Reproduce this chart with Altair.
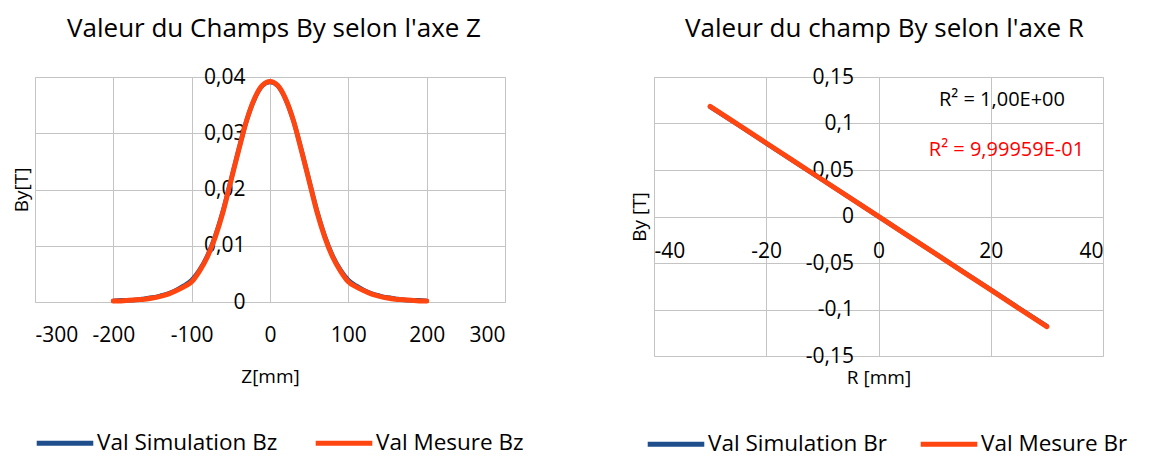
import altair as alt
import pandas as pd

# ---------- data: field along Z ----------
z_mm = [-200, -190, -180, -170, -160, -150, -140, -130, -120, -110, -100,
        -90, -80, -70, -60, -50, -40, -30, -20, -10, 0,
        10, 20, 30, 40, 50, 60, 70, 80, 90, 100,
        110, 120, 130, 140, 150, 160, 170, 180, 190, 200]
bz_sim = [0.0002, 0.0003, 0.0003, 0.0004, 0.0006, 0.0008, 0.0011, 0.0015, 0.0021, 0.0029, 0.0039,
          0.0057, 0.0082, 0.0117, 0.0162, 0.0216, 0.0271, 0.0322, 0.0360, 0.0384, 0.0391,
          0.0384, 0.0360, 0.0322, 0.0271, 0.0216, 0.0162, 0.0117, 0.0082, 0.0057, 0.0039,
          0.0029, 0.0021, 0.0015, 0.0011, 0.0008, 0.0006, 0.0004, 0.0003, 0.0003, 0.0002]
bz_mes = [0.0002, 0.0002, 0.0003, 0.0004, 0.0005, 0.0007, 0.0010, 0.0014, 0.0020, 0.0027, 0.0036,
          0.0055, 0.0080, 0.0115, 0.0160, 0.0215, 0.0270, 0.0322, 0.0361, 0.0385, 0.0392,
          0.0385, 0.0361, 0.0322, 0.0270, 0.0215, 0.0160, 0.0115, 0.0080, 0.0055, 0.0036,
          0.0027, 0.0020, 0.0014, 0.0010, 0.0007, 0.0005, 0.0004, 0.0003, 0.0002, 0.0002]

# ---------- data: field along R ----------
r_mm = [-30, -25, -20, -15, -10, -5, 0, 5, 10, 15, 20, 25, 30]
br_sim = [0.1180, 0.0984, 0.0787, 0.0590, 0.0393, 0.0197, 0.0000,
          -0.0197, -0.0393, -0.0590, -0.0787, -0.0984, -0.1180]
br_mes = [0.1185, 0.0988, 0.0790, 0.0592, 0.0395, 0.0197, 0.0001,
          -0.0197, -0.0394, -0.0592, -0.0789, -0.0987, -0.1184]

z_ticks = [-300, -200, -100, 0, 100, 200, 300]
by_z_ticks = [0, 0.01, 0.02, 0.03, 0.04]
r_ticks = [-40, -20, 0, 20, 40]
by_r_ticks = [-0.15, -0.1, -0.05, 0, 0.05, 0.1, 0.15]

series_z = ["Val Simulation Bz", "Val Mesure Bz"]
series_r = ["Val Simulation Br", "Val Mesure Br"]
r2_texts = ["R² = 1,00E+00", "R² = 9,99959E-01"]
r2_colors = ["#000000", "#FF0000"]
r2_r = [22.0, 22.8]
r2_by = [0.125, 0.0715]

BLUE = "#1F4E8C"
ORANGE = "#FF4510"
GRID = "#C4C4C4"
FONT = "Open Sans"
TICK = 21
ATITLE = 19
LEG = 22.5
TITLE = 26

dz = pd.DataFrame({
    "Z": z_mm + z_mm,
    "By": bz_sim + bz_mes,
    "serieZ": [series_z[0]] * len(z_mm) + [series_z[1]] * len(z_mm),
})
dr = pd.DataFrame({
    "R": r_mm + r_mm,
    "By": br_sim + br_mes,
    "serieR": [series_r[0]] * len(r_mm) + [series_r[1]] * len(r_mm),
})

comma = "replace(toString(datum.value), '.', ',')"
plain = "toString(datum.value)"

common_axis = dict(grid=True, gridColor=GRID, domain=False, ticks=False,
                   labelFontSize=TICK, titleFontSize=ATITLE, titleFontWeight="normal",
                   labelFont=FONT, titleFont=FONT, labelColor="#000000",
                   titleColor="#000000")


def legend(x, y, gap):
    return alt.Legend(title=None, orient="none", legendX=x, legendY=y,
                      direction="horizontal", symbolType="stroke",
                      symbolStrokeWidth=5, symbolSize=3200, labelLimit=400,
                      labelFontSize=LEG, labelFont=FONT, labelColor="#000000",
                      columnPadding=gap, labelOffset=1, padding=0)


# ---------------- left chart ----------------
WL, HL = 470, 225
xz = alt.X("Z:Q", scale=alt.Scale(domain=[-300, 300], nice=False),
           axis=alt.Axis(values=z_ticks, labelExpr=plain, title="Z[mm]",
                         labelPadding=22, titlePadding=22, **common_axis))
yz = alt.Y("By:Q", scale=alt.Scale(domain=[0, 0.04], nice=False),
           axis=alt.Axis(values=by_z_ticks, labelExpr=comma, title="By[T]", offset=-235,
                         labelPadding=25, titleX=-249, titleY=HL / 2,
                         titleBaseline="middle", **common_axis))
colz = alt.Color("serieZ:N",
                 scale=alt.Scale(domain=series_z, range=[BLUE, ORANGE]),
                 legend=legend(-1, 335, 27))

left_sim = alt.Chart(dz).transform_filter(alt.datum.serieZ == series_z[0]).mark_line(
    strokeWidth=4.5, strokeCap="round", interpolate="monotone").encode(x=xz, y=yz, color=colz)
left_mes = alt.Chart(dz).transform_filter(alt.datum.serieZ == series_z[1]).mark_line(
    strokeWidth=5, strokeCap="round", interpolate="monotone").encode(x=xz, y=yz, color=colz)

left = alt.layer(left_sim, left_mes).properties(
    width=WL, height=HL,
    title=alt.TitleParams("Valeur du Champs By selon l'axe Z", fontSize=TITLE, font=FONT,
                          fontWeight="normal", color="#000000", dx=4, offset=24))

# ---------------- right chart ----------------
WR, HR = 449, 279
y0 = HR / 2  # pixel position of By = 0
xr = alt.X("R:Q", scale=alt.Scale(domain=[-40, 40], nice=False),
           axis=alt.Axis(values=r_ticks, labelExpr=plain, title="R [mm]", offset=-(HR - y0),
                         labelPadding=24, titleX=WR / 2, titleY=161, titleBaseline="middle",
                         **common_axis))
yr = alt.Y("By:Q", scale=alt.Scale(domain=[-0.15, 0.15], nice=False),
           axis=alt.Axis(values=by_r_ticks, labelExpr=comma, title="By [T]", offset=-WR / 2,
                         labelPadding=25, titleX=-WR / 2 - 15, titleY=HR / 2,
                         titleBaseline="middle", **common_axis))
colr = alt.Color("serieR:N",
                 scale=alt.Scale(domain=series_r, range=[BLUE, ORANGE]),
                 legend=legend(-9, 336, 23))

right_sim = alt.Chart(dr).transform_filter(alt.datum.serieR == series_r[0]).mark_line(
    strokeWidth=4.5, strokeCap="round").encode(x=xr, y=yr, color=colr)
right_mes = alt.Chart(dr).transform_filter(alt.datum.serieR == series_r[1]).mark_line(
    strokeWidth=5, strokeCap="round").encode(x=xr, y=yr, color=colr)

r2 = pd.DataFrame({"txt": r2_texts, "col": r2_colors, "R": r2_r, "By": r2_by})
r2_text = alt.Chart(r2).mark_text(fontSize=20, font=FONT, align="center",
                                  baseline="middle").encode(
    x=alt.X("R:Q"), y=alt.Y("By:Q"), text="txt:N",
    color=alt.Color("col:N", scale=None))

right = alt.layer(right_sim, right_mes, r2_text).properties(
    width=WR, height=HR,
    title=alt.TitleParams("Valeur du champ By selon l'axe R", fontSize=TITLE, font=FONT,
                          fontWeight="normal", color="#000000", dx=6, offset=24))

chart = alt.hconcat(left, right, spacing=104).resolve_scale(color="independent").configure_view(
    stroke=GRID, strokeWidth=1.5).configure(padding={"left": 3, "top": 7, "right": 0, "bottom": 5})

chart.save("out.html", embed_options={"renderer": "svg", "actions": False})
